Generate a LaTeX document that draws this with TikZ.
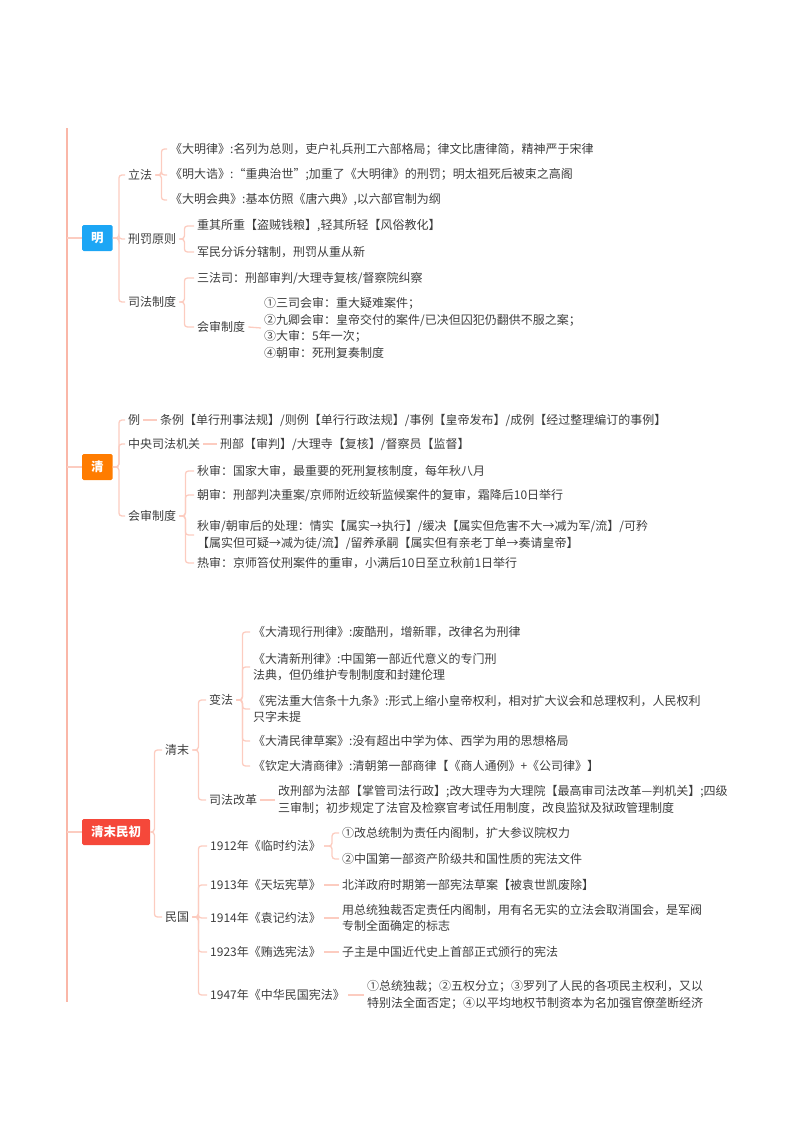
\documentclass[tikz,border=0pt]{standalone}
\usepackage{fontspec}
\setmainfont{Noto Sans CJK SC}
\usepackage{xcolor}
\usepackage{tikz}
\usetikzlibrary{positioning,calc}
\definecolor{trunkred}{RGB}{250,183,168}
\definecolor{twigred}{RGB}{252,204,192}
\definecolor{textgray}{RGB}{62,62,62}
\definecolor{mingblue}{RGB}{28,166,245}
\definecolor{qingorange}{RGB}{255,124,0}
\definecolor{mochured}{RGB}{245,72,58}
\tikzset{
  rootbox/.style={anchor=west,text=white,font=\fontsize{12.5}{15}\selectfont\bfseries,rounded corners=1.5pt,minimum height=26,inner xsep=9,inner ysep=2},
  topic/.style={anchor=west,text=textgray,inner xsep=3,inner ysep=2,align=left},
  twig/.style={draw=twigred,line width=1.3,rounded corners=3},
  rootlink/.style={draw=twigred,line width=1.8},
  trunk/.style={draw=trunkred,line width=2.2},
}

\begin{document}
\begin{tikzpicture}[x=1pt,y=-1pt,font=\fontsize{12}{16.5}\selectfont]
  \useasboundingbox (0,0) rectangle (800,1132);
  % trunk
  \coordinate (top) at (67,128);
  \coordinate (bot) at (67,1002);
  \draw[trunk] (top) -- (bot);
  % ming
  \node[rootbox,fill=mingblue] (ming) at (82,238) {明};
  \draw[rootlink] (ming.west -| top) -- (ming.west);
  \node[topic] (lifa) at (125,175) {立法};
  \node[topic] (xingfa) at (125,239) {刑罚原则};
  \node[topic] (sifa) at (125,302) {司法制度};
  \draw[twig] (ming.east) -- ++(6,0) |- (lifa.west);
  \draw[twig] (ming.east) -- ++(6,0) |- (xingfa.west);
  \draw[twig] (ming.east) -- ++(6,0) |- (sifa.west);
  \node[topic] (daminglv) at (167,149) {《大明律》:名列为总则，吏户礼兵刑工六部格局；律文比唐律简，精神严于宋律};
  \node[topic] (dagao) at (167,175) {《明大诰》:“重典治世”;加重了《大明律》的刑罚；明太祖死后被束之高阁};
  \node[topic] (huidian) at (167,200) {《大明会典》:基本仿照《唐六典》,以六部官制为纲};
  \draw[twig] (lifa.east) -- ++(6,0) |- (daminglv.west);
  \draw[twig] (lifa.east) -- ++(6,0) |- (dagao.west);
  \draw[twig] (lifa.east) -- ++(6,0) |- (huidian.west);
  \node[topic] (zhongqi) at (194,226) {重其所重【盗贼钱粮】,轻其所轻【风俗教化】};
  \node[topic] (junmin) at (194,252) {军民分诉分辖制，刑罚从重从新};
  \draw[twig] (xingfa.east) -- ++(5,0) |- (zhongqi.west);
  \draw[twig] (xingfa.east) -- ++(5,0) |- (junmin.west);
  \node[topic] (sanfasi) at (194,278) {三法司：刑部审判/大理寺复核/督察院纠察};
  \node[topic] (huishen) at (194,327) {会审制度};
  \draw[twig] (sifa.east) -- ++(5,0) |- (sanfasi.west);
  \draw[twig] (sifa.east) -- ++(5,0) |- (huishen.west);
  \node[topic] (huishenlist) at (261,328) {①三司会审：重大疑难案件；\\②九卿会审：皇帝交付的案件/已决但囚犯仍翻供不服之案；\\③大审：5年一次；\\④朝审：死刑复奏制度};
  \draw[twig] (huishen.east) -- (huishenlist.west);
  % qing
  \node[rootbox,fill=qingorange] (qing) at (82,467) {清};
  \draw[rootlink] (qing.west -| top) -- (qing.west);
  \node[topic] (li) at (125,420) {例};
  \node[topic] (zhongyang) at (125,444) {中央司法机关};
  \node[topic] (qhuishen) at (125,516) {会审制度};
  \draw[twig] (qing.east) -- ++(6,0) |- (li.west);
  \draw[twig] (qing.east) -- ++(6,0) |- (zhongyang.west);
  \draw[twig] (qing.east) -- ++(6,0) |- (qhuishen.west);
  \node[topic] (litext) at (157,420) {条例【单行刑事法规】/则例【单行行政法规】/事例【皇帝发布】/成例【经过整理编订的事例】};
  \draw[twig] (li.east) -- (litext.west);
  \node[topic] (zhongyangtext) at (217,444) {刑部【审判】/大理寺【复核】/督察员【监督】};
  \draw[twig] (zhongyang.east) -- (zhongyangtext.west);
  \node[topic] (qiushen) at (194,471) {秋审：国家大审，最重要的死刑复核制度，每年秋八月};
  \node[topic] (chaoshen) at (194,495) {朝审：刑部判决重案/京师附近绞斩监候案件的复审，霜降后10日举行};
  \node[topic] (chuli) at (194,535) {秋审/朝审后的处理：情实【属实→执行】/缓决【属实但危害不大→减为军/流】/可矜\\【属实但可疑→减为徒/流】/留养承嗣【属实但有亲老丁单→奏请皇帝】};
  \node[topic] (reshen) at (194,563) {热审：京师笞仗刑案件的重审，小满后10日至立秋前1日举行};
  \draw[twig] (qhuishen.east) -- ++(6,0) |- (qiushen.west);
  \draw[twig] (qhuishen.east) -- ++(6,0) |- (chaoshen.west);
  \draw[twig] (qhuishen.east) -- ++(6,0) |- (chuli.west);
  \draw[twig] (qhuishen.east) -- ++(6,0) |- (reshen.west);
  % qingmo minchu
  \node[rootbox,fill=mochured] (mochu) at (82,832) {清末民初};
  \draw[rootlink] (mochu.west -| top) -- (mochu.west);
  \node[topic] (qingmo) at (162,750) {清末};
  \node[topic] (minguo) at (162,917) {民国};
  \draw[twig] (mochu.east) -- ++(4,0) |- (qingmo.west);
  \draw[twig] (mochu.east) -- ++(4,0) |- (minguo.west);
  \node[topic] (bianfa) at (206,700) {变法};
  \node[topic] (gaige) at (206,800) {司法改革};
  \draw[twig] (qingmo.east) -- ++(6,0) |- (bianfa.west);
  \draw[twig] (qingmo.east) -- ++(6,0) |- (gaige.west);
  \node[topic] (xianxing) at (250,632) {《大清现行刑律》:废酷刑，增新罪，改律名为刑律};
  \node[topic] (xinxing) at (250,667) {《大清新刑律》:中国第一部近代意义的专门刑\\法典，但仍维护专制制度和封建伦理};
  \node[topic] (xintiao) at (250,709) {《宪法重大信条十九条》:形式上缩小皇帝权利，相对扩大议会和总理权利，人民权利\\只字未提};
  \node[topic] (minlv) at (250,741) {《大清民律草案》:没有超出中学为体、西学为用的思想格局};
  \node[topic] (shanglv) at (250,766) {《钦定大清商律》:清朝第一部商律【《商人通例》+《公司律》】};
  \draw[twig] (bianfa.east) -- ++(6,0) |- (xianxing.west);
  \draw[twig] (bianfa.east) -- ++(6,0) |- (xinxing.west);
  \draw[twig] (bianfa.east) -- ++(6,0) |- (xintiao.west);
  \draw[twig] (bianfa.east) -- ++(6,0) |- (minlv.west);
  \draw[twig] (bianfa.east) -- ++(6,0) |- (shanglv.west);
  \node[topic] (gaigetext) at (275,800) {改刑部为法部【掌管司法行政】;改大理寺为大理院【最高审司法改革—判机关】;四级\\三审制；初步规定了法官及检察官考试任用制度，改良监狱及狱政管理制度};
  \draw[twig] (gaige.east) -- (gaigetext.west);
  \node[topic] (yuefa) at (207,846) {1912年《临时约法》};
  \node[topic] (tiantan) at (207,885) {1913年《天坛宪草》};
  \node[topic] (yuanji) at (207,918) {1914年《袁记约法》};
  \node[topic] (huixuan) at (207,952) {1923年《贿选宪法》};
  \node[topic] (zhonghua) at (207,995) {1947年《中华民国宪法》};
  \draw[twig] (minguo.east) -- ++(6,0) |- (yuefa.west);
  \draw[twig] (minguo.east) -- ++(6,0) |- (tiantan.west);
  \draw[twig] (minguo.east) -- ++(6,0) |- (yuanji.west);
  \draw[twig] (minguo.east) -- ++(6,0) |- (huixuan.west);
  \draw[twig] (minguo.east) -- ++(6,0) |- (zhonghua.west);
  \node[topic] (neige) at (339,833) {①改总统制为责任内阁制，扩大参议院权力};
  \node[topic] (zichan) at (339,859) {②中国第一部资产阶级共和国性质的宪法文件};
  \draw[twig] (yuefa.east) -- ++(8,0) |- (neige.west);
  \draw[twig] (yuefa.east) -- ++(8,0) |- (zichan.west);
  \node[topic] (tiantantext) at (339,885) {北洋政府时期第一部宪法草案【被袁世凯废除】};
  \draw[twig] (tiantan.east) -- (tiantantext.west);
  \node[topic] (yuanjitext) at (339,918) {用总统独裁否定责任内阁制，用有名无实的立法会取消国会，是军阀\\专制全面确定的标志};
  \draw[twig] (yuanji.east) -- (yuanjitext.west);
  \node[topic] (huixuantext) at (339,952) {子主是中国近代史上首部正式颁行的宪法};
  \draw[twig] (huixuan.east) -- (huixuantext.west);
  \node[topic] (zhonghuatext) at (364,995) {①总统独裁；②五权分立；③罗列了人民的各项民主权利，又以\\特别法全面否定；④以平均地权节制资本为名加强官僚垄断经济};
  \draw[twig] (zhonghua.east) -- (zhonghuatext.west);
\end{tikzpicture}
\end{document}
